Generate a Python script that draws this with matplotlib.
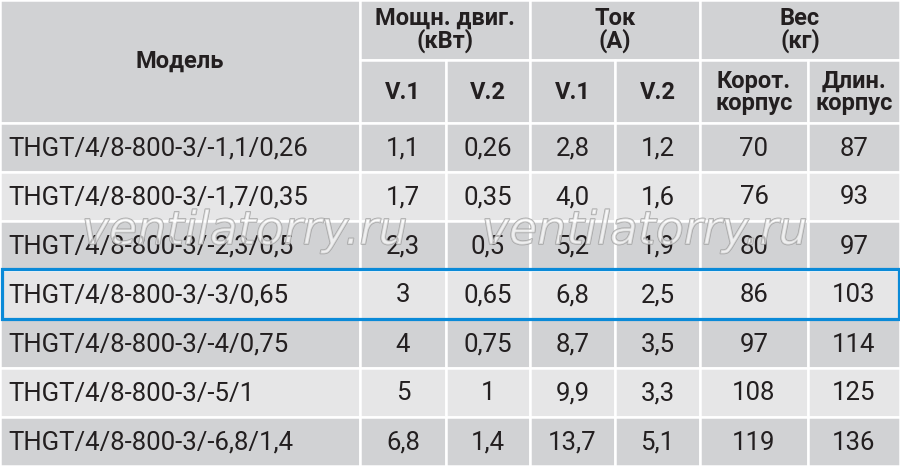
import matplotlib
matplotlib.use("Agg")
import matplotlib.pyplot as plt
from matplotlib.patches import Rectangle
from matplotlib import font_manager
import matplotlib.patheffects as pe

# ---- data ----
models = ["THGT/4/8-800-3/-1,1/0,26", "THGT/4/8-800-3/-1,7/0,35",
          "THGT/4/8-800-3/-2,3/0,5", "THGT/4/8-800-3/-3/0,65",
          "THGT/4/8-800-3/-4/0,75", "THGT/4/8-800-3/-5/1",
          "THGT/4/8-800-3/-6,8/1,4"]
power_v1 = ["1,1", "1,7", "2,3", "3", "4", "5", "6,8"]
power_v2 = ["0,26", "0,35", "0,5", "0,65", "0,75", "1", "1,4"]
current_v1 = ["2,8", "4,0", "5,2", "6,8", "8,7", "9,9", "13,7"]
current_v2 = ["1,2", "1,6", "1,9", "2,5", "3,5", "3,3", "5,1"]
weight_short = ["70", "76", "80", "86", "97", "108", "119"]
weight_long = ["87", "93", "97", "103", "114", "125", "136"]

group_headers = ["Мощн. двиг.\n(кВт)", "Ток\n(А)", "Вес\n(кг)"]
sub_headers = ["V.1", "V.2", "V.1", "V.2", "Корот.\nкорпус", "Длин.\nкорпус"]
model_header = "Модель"
highlight_row = 3
watermark = "ventilatorry.ru"

# ---- fonts ----
names = {f.name for f in font_manager.fontManager.ttflist}
if "Liberation Sans Narrow" in names:
    FAM = ["Liberation Sans Narrow", "DejaVu Sans"]
    FS = 20.5
    HFS = 19
else:
    FAM = ["Roboto", "DejaVu Sans"]
    FS = 18.5
    HFS = 17

W, H = 900, 466
fig = plt.figure(figsize=(9, 4.66), dpi=100)
ax = fig.add_axes([0, 0, 1, 1])
ax.set_xlim(0, W)
ax.set_ylim(H, 0)
ax.axis("off")

DARK = "#d1d2d4"
LIGHT = "#e6e6e7"
TXT = "#231f20"
LW = 1.8

xs = [0, 360, 446, 530, 615, 700, 808, 900]
y_h1 = 0
y_h2 = 60
y_d0 = 123
row_h = 49

def cell(x0, y0, x1, y1, color):
    ax.add_patch(Rectangle((x0, y0), x1 - x0, y1 - y0, facecolor=color,
                           edgecolor="white", linewidth=LW, zorder=1))

# header
cell(xs[0], y_h1, xs[1], y_d0, DARK)
ax.text(xs[1] / 2, (y_h1 + y_d0) / 2, model_header, ha="center", va="center",
        fontsize=HFS, fontweight="bold", family=FAM, color=TXT, zorder=3)
groups = [(1, 3), (3, 5), (5, 7)]
for (a, b), lab in zip(groups, group_headers):
    cell(xs[a], y_h1, xs[b], y_h2, DARK)
    ax.text((xs[a] + xs[b]) / 2, (y_h1 + y_h2) / 2, lab, ha="center",
            va="center", fontsize=HFS, fontweight="bold", family=FAM,
            color=TXT, linespacing=0.95, zorder=3)
for i, lab in enumerate(sub_headers):
    cell(xs[i + 1], y_h2, xs[i + 2], y_d0, DARK)
    ax.text((xs[i + 1] + xs[i + 2]) / 2, (y_h2 + y_d0) / 2 + 1, lab,
            ha="center", va="center", fontsize=HFS, fontweight="bold",
            family=FAM, color=TXT, linespacing=0.95, zorder=3)

# body
cols = [power_v1, power_v2, current_v1, current_v2, weight_short, weight_long]
for r, m in enumerate(models):
    y0 = y_d0 + r * row_h
    y1 = y0 + row_h
    color = DARK if r % 2 == 0 else LIGHT
    cell(xs[0], y0, xs[1], y1, color)
    ax.text(8, (y0 + y1) / 2 + 1, m, ha="left", va="center", fontsize=FS,
            family=FAM, color=TXT, zorder=3)
    for c, col in enumerate(cols):
        cell(xs[c + 1], y0, xs[c + 2], y1, color)
        ax.text((xs[c + 1] + xs[c + 2]) / 2, (y0 + y1) / 2 + 1, col[r],
                ha="center", va="center", fontsize=FS, family=FAM,
                color=TXT, zorder=3)

# highlight box
hy0 = y_d0 + highlight_row * row_h
ax.add_patch(Rectangle((1.5, hy0 - 1), W - 3, row_h + 1, facecolor="none",
                       edgecolor="#0a8ad8", linewidth=2.3, zorder=5))

# watermark
for cx in [245, 645]:
    ax.text(cx, 244, watermark, ha="center", va="baseline", fontsize=33,
            family=["DejaVu Sans"], fontstyle="oblique",
            fontweight="normal", color=(1, 1, 1, 0.3), zorder=4,
            path_effects=[pe.withStroke(linewidth=1.1,
                                        foreground=(0.62, 0.62, 0.62, 0.85)),
                          pe.Normal()])

fig.savefig("out.png", dpi=100)
